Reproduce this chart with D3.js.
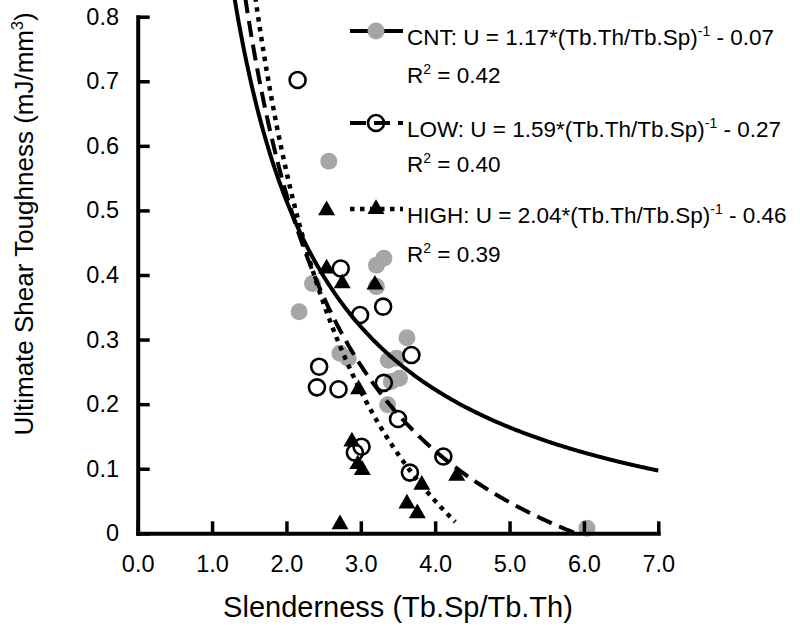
<!DOCTYPE html>
<html>
<head>
<meta charset="utf-8">
<script src="https://cdn.jsdelivr.net/npm/d3@7/dist/d3.min.js"></script>
<style>
  html, body { margin: 0; padding: 0; background: #fff; }
  text { font-family: Arial, "Liberation Sans", sans-serif; fill: #000; }
</style>
</head>
<body>
<svg id="chart" width="800" height="630"></svg>
<script>
// ---------- data ----------
const xTicks = [0, 1, 2, 3, 4, 5, 6, 7];
const yTicks = [0, 0.1, 0.2, 0.3, 0.4, 0.5, 0.6, 0.7, 0.8];

const seriesNames = ["CNT", "LOW", "HIGH"];
const fitA = [1.17, 1.59, 2.04];
const fitB = [0.07, 0.27, 0.46];
const fitR2 = ["0.42", "0.40", "0.39"];
const fitXMax = [7.0, 5.89, 4.27];

const cntX = [2.57, 2.35, 2.17, 3.21, 3.31, 3.21, 2.72, 2.83, 3.37, 3.48, 3.62, 3.41, 3.52, 3.36, 6.04];
const cntY = [0.576, 0.387, 0.343, 0.415, 0.426, 0.382, 0.279, 0.271, 0.268, 0.271, 0.303, 0.235, 0.240, 0.199, 0.008];

const lowX = [2.15, 2.73, 3.30, 2.99, 2.44, 2.41, 2.70, 3.68, 3.31, 3.50, 3.01, 2.92, 3.66, 4.11];
const lowY = [0.702, 0.410, 0.351, 0.338, 0.258, 0.226, 0.223, 0.276, 0.233, 0.177, 0.134, 0.125, 0.094, 0.119];

const highX = [2.54, 2.54, 2.75, 3.19, 2.97, 2.88, 2.96, 3.02, 3.82, 3.62, 3.76, 4.29, 2.72];
const highY = [0.500, 0.410, 0.387, 0.385, 0.223, 0.142, 0.107, 0.098, 0.075, 0.046, 0.031, 0.089, 0.014];

// ---------- layout ----------
const svg = d3.select("#chart");
const mLeft = 137.7, mRight = 658.3, mTop = 16.7, mBottom = 533.3;
const x = d3.scaleLinear().domain([0, 7]).range([mLeft, mRight]);
const y = d3.scaleLinear().domain([0, 0.8]).range([mBottom, mTop]);

const GRAY = "#a6a6a6";
const dashes = [null, "16,8", "4.5,5.5"];
const widths = [4, 4, 4.5];

// clip
svg.append("defs").append("clipPath").attr("id", "plot")
  .append("rect").attr("x", mLeft).attr("y", 0).attr("width", 800 - mLeft).attr("height", mBottom);

// ---------- markers ----------
const pts = (xs, ys) => xs.map((v, i) => [v, ys[i]]);
const markers = svg.append("g");
markers.selectAll("circle.cnt").data(pts(cntX, cntY)).enter().append("circle")
  .attr("cx", d => x(d[0])).attr("cy", d => y(d[1])).attr("r", 8.5).attr("fill", GRAY);
markers.selectAll("circle.low").data(pts(lowX, lowY)).enter().append("circle")
  .attr("cx", d => x(d[0])).attr("cy", d => y(d[1])).attr("r", 8)
  .attr("fill", "none").attr("stroke", "#000").attr("stroke-width", 2.6);
const tri = d3.symbol().type(d3.symbolTriangle).size(125);
markers.selectAll("path.high").data(pts(highX, highY)).enter().append("path")
  .attr("d", tri).attr("transform", d => `translate(${x(d[0])},${y(d[1])})`).attr("fill", "#000");

// ---------- fitted curves ----------
const line = d3.line().x(d => x(d[0])).y(d => y(d[1]));
const curves = svg.append("g").attr("clip-path", "url(#plot)");
seriesNames.forEach((n, i) => {
  const a = fitA[i], b = fitB[i];
  const x0 = a / (0.83 + b), x1 = fitXMax[i];
  const n2 = 300;
  const data = d3.range(n2 + 1).map(k => {
    const xv = x0 + (x1 - x0) * k / n2;
    return [xv, a / xv - b];
  });
  curves.append("path").datum(data).attr("d", line)
    .attr("fill", "none").attr("stroke", "#000").attr("stroke-width", widths[i])
    .attr("stroke-dasharray", dashes[i]);
});

// ---------- axes ----------
const yAxis = d3.axisLeft(y).tickValues(yTicks).tickSizeInner(-12).tickSizeOuter(0).tickPadding(18.7)
  .tickFormat(d => d === 0 ? "0" : d3.format(".1f")(d));
const xAxis = d3.axisBottom(x).tickValues(xTicks).tickSizeInner(-12).tickSizeOuter(0).tickPadding(22)
  .tickFormat(d3.format(".1f"));

const gy = svg.append("g").attr("transform", `translate(${mLeft},0)`).call(yAxis);
const gx = svg.append("g").attr("transform", `translate(0,${mBottom})`).call(xAxis);
[gx, gy].forEach(g => {
  g.select(".domain").attr("stroke", "#000").attr("stroke-width", 4).attr("stroke-linecap", "square");
  g.selectAll(".tick line").attr("stroke", "#000").attr("stroke-width", 3.5);
  g.selectAll(".tick text").attr("font-size", 23.5).attr("fill", "#000")
    .attr("font-family", "Arial, 'Liberation Sans', sans-serif");
});

// ---------- axis titles ----------
svg.append("text").attr("x", (mLeft + mRight) / 2).attr("y", 617).attr("text-anchor", "middle")
  .attr("font-size", 29).text("Slenderness (Tb.Sp/Tb.Th)");

const yt = svg.append("text").attr("transform", "translate(33,224) rotate(-90)")
  .attr("text-anchor", "middle").attr("font-size", 26);
yt.append("tspan").text("Ultimate Shear Toughness (mJ/mm");
yt.append("tspan").attr("font-size", 16).attr("dy", -10).text("3");
yt.append("tspan").attr("dy", 10).text(")");

// ---------- legend ----------
const legBase = [45, 137, 223];
const r2Base = [83, 172, 262];
const lg = svg.append("g");
seriesNames.forEach((n, i) => {
  const ly = legBase[i] - 14;
  lg.append("line").attr("x1", 350).attr("x2", 403).attr("y1", ly).attr("y2", ly)
    .attr("stroke", "#000").attr("stroke-width", widths[i]).attr("stroke-dasharray", dashes[i]);
  if (i === 0) {
    lg.append("circle").attr("cx", 376).attr("cy", ly).attr("r", 8.5).attr("fill", GRAY);
  } else if (i === 1) {
    lg.append("circle").attr("cx", 376).attr("cy", ly).attr("r", 8).attr("fill", "none")
      .attr("stroke", "#000").attr("stroke-width", 2.6);
  } else {
    lg.append("path").attr("d", tri).attr("transform", `translate(376,${ly})`).attr("fill", "#000");
  }
  const t = lg.append("text").attr("x", 407).attr("y", legBase[i]).attr("font-size", 22.5);
  t.append("tspan").text(`${n}: U = ${fitA[i].toFixed(2)}*(Tb.Th/Tb.Sp)`);
  t.append("tspan").attr("font-size", 14).attr("dy", -9).text("-1");
  t.append("tspan").attr("dy", 9).text(` - ${fitB[i].toFixed(2)}`);

  const r = lg.append("text").attr("x", 407).attr("y", r2Base[i]).attr("font-size", 22.5);
  r.append("tspan").text("R");
  r.append("tspan").attr("font-size", 14).attr("dy", -9).text("2");
  r.append("tspan").attr("dy", 9).text(` = ${fitR2[i]}`);
});
</script>
</body>
</html>
